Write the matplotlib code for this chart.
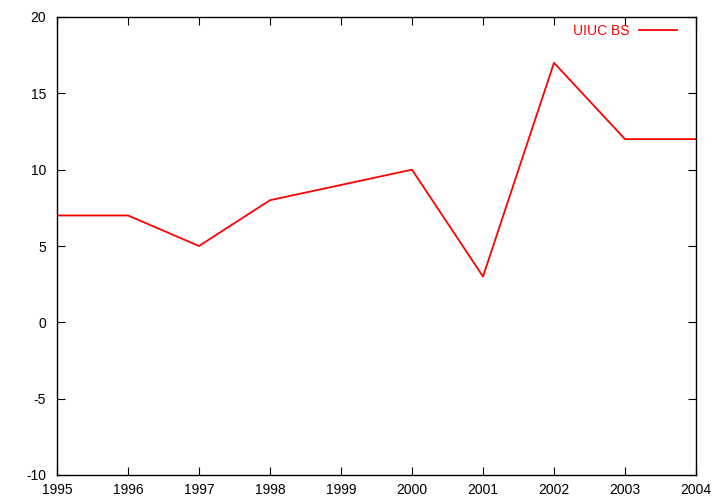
import matplotlib
matplotlib.use('Agg')
import matplotlib.pyplot as plt

# datos de la serie
anios = [1995, 1996, 1997, 1998, 1999, 2000, 2001, 2002, 2003, 2004]
uiuc_bs = [7, 7, 5, 8, 9, 10, 3, 17, 12, 12]

plt.rcParams['font.family'] = ['Liberation Sans', 'DejaVu Sans']
plt.rcParams['font.size'] = 10
plt.rcParams['axes.unicode_minus'] = False

fig = plt.figure(figsize=(7.2, 5.04), dpi=100)
ax = fig.add_axes([57 / 720, 1 - 475 / 504, (696 - 57) / 720, (475 - 17) / 504])

ax.plot(anios, uiuc_bs, color='red', linewidth=1.3, label='UIUC BS')

ax.set_xlim(1995, 2004)
ax.set_ylim(-10, 20)
ax.set_xticks(anios)
ax.set_yticks(range(-10, 21, 5))
ax.tick_params(direction='in', length=6, width=0.8, top=True, right=True, labelsize=10)
ax.tick_params(axis='x', pad=6)
ax.tick_params(axis='y', pad=8)
for s in ax.spines.values():
    s.set_linewidth(1.0)

# leyenda al estilo gnuplot: texto y luego la linea
leg = ax.legend(loc='upper right', frameon=False, handlelength=2.8, handletextpad=0.65,
                markerfirst=False, borderaxespad=0, fontsize=10,
                bbox_to_anchor=((683 - 57) / 639, 1 - 1 / 458))
for t in leg.get_texts():
    t.set_color('red')

fig.savefig('out.png', dpi=100)
